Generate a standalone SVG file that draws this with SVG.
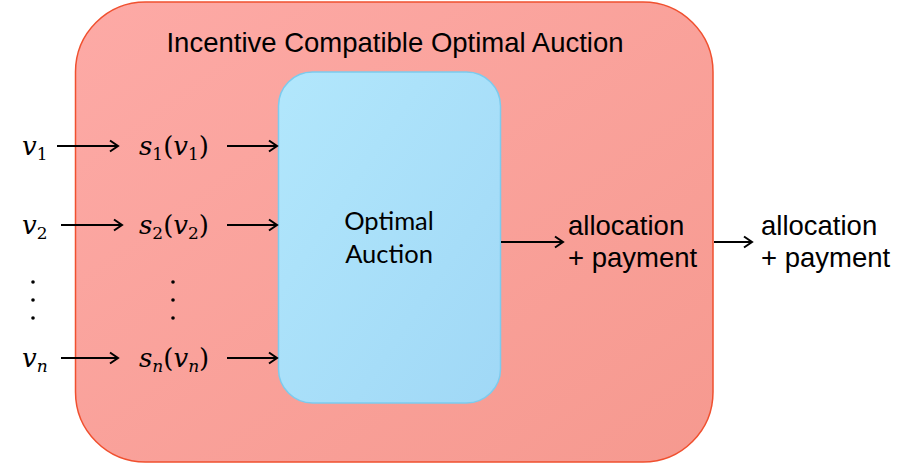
<svg xmlns="http://www.w3.org/2000/svg" width="897" height="466" viewBox="0 0 897 466">
<style>
.math{font-family:"DejaVu Serif","Liberation Serif",serif;font-style:italic;font-size:26px;fill:#000}
.sub{font-size:17px;font-style:normal}
.subi{font-size:17px}
.up{font-style:normal}
.lbl{font-family:"Liberation Sans",Arial,sans-serif;font-size:27.5px;fill:#000}
.inner{font-family:Lato,"Open Sans",sans-serif;font-size:25.5px;fill:#000}
.arr{stroke:#000;stroke-width:2;fill:none;marker-end:url(#ah)}
.dot{fill:#000}
</style>
<defs>
<linearGradient id="gr" x1="0" y1="0" x2="1" y2="1">
<stop offset="0" stop-color="#fdaaa6"/><stop offset="1" stop-color="#f6998f"/>
</linearGradient>
<linearGradient id="gb" x1="0" y1="0" x2="1" y2="1">
<stop offset="0" stop-color="#b2e7fc"/><stop offset="1" stop-color="#a0d8f6"/>
</linearGradient>
<marker id="ah" markerWidth="14" markerHeight="14" refX="11" refY="7" orient="auto" markerUnits="userSpaceOnUse">
<polyline points="3,1.5 11,7 3,12.5" fill="none" stroke="#000" stroke-width="2"/>
</marker>
</defs>
<g id="outer">
<rect x="75.5" y="2" width="637.5" height="460" rx="70" ry="70" fill="url(#gr)" stroke="#f0502f" stroke-width="1.5"/>
<text class="lbl" x="395" y="52" text-anchor="middle">Incentive Compatible Optimal Auction</text>
</g>
<g id="optimal">
<rect x="278.5" y="72" width="222" height="331" rx="34" ry="34" fill="url(#gb)" stroke="#7ccbee" stroke-width="1.5"/>
<text class="inner" x="389" y="230" text-anchor="middle">Optimal</text>
<text class="inner" x="389" y="263" text-anchor="middle">Auction</text>
</g>
<g id="inputs">
<text class="math" x="22" y="155">v<tspan class="sub" dy="5">1</tspan></text>
<text class="math" x="22" y="234">v<tspan class="sub" dy="5">2</tspan></text>
<text class="math" x="22" y="367">v<tspan class="subi" dy="5">n</tspan></text>
<circle class="dot" cx="33" cy="282" r="1.8"/><circle class="dot" cx="33" cy="300" r="1.8"/><circle class="dot" cx="33" cy="318" r="1.8"/>
</g>
<g id="strategies">
<text class="math" x="139" y="155">s<tspan class="sub" dy="5">1</tspan><tspan class="up" dy="-5">(</tspan>v<tspan class="sub" dy="5">1</tspan><tspan class="up" dy="-5">)</tspan></text>
<text class="math" x="139" y="234">s<tspan class="sub" dy="5">2</tspan><tspan class="up" dy="-5">(</tspan>v<tspan class="sub" dy="5">2</tspan><tspan class="up" dy="-5">)</tspan></text>
<text class="math" x="139" y="367">s<tspan class="subi" dy="5">n</tspan><tspan class="up" dy="-5">(</tspan>v<tspan class="subi" dy="5">n</tspan><tspan class="up" dy="-5">)</tspan></text>
<circle class="dot" cx="173" cy="282" r="1.8"/><circle class="dot" cx="173" cy="300" r="1.8"/><circle class="dot" cx="173" cy="318" r="1.8"/>
</g>
<g id="out-inner">
<text class="lbl" x="568" y="235">allocation</text>
<text class="lbl" x="568" y="267">+ payment</text>
</g>
<g id="out-outer">
<text class="lbl" x="761" y="235">allocation</text>
<text class="lbl" x="761" y="267">+ payment</text>
</g>
<g id="connectors">
<line class="arr" x1="57" y1="146" x2="118" y2="146"/>
<line class="arr" x1="61" y1="225" x2="122" y2="225"/>
<line class="arr" x1="61" y1="358" x2="118" y2="358"/>
<line class="arr" x1="227" y1="146" x2="277" y2="146"/>
<line class="arr" x1="227" y1="225" x2="277" y2="225"/>
<line class="arr" x1="227" y1="358" x2="277" y2="358"/>
<line class="arr" x1="501" y1="242" x2="563" y2="242"/>
<line class="arr" x1="714" y1="242" x2="752" y2="242"/>
</g>
</svg>
